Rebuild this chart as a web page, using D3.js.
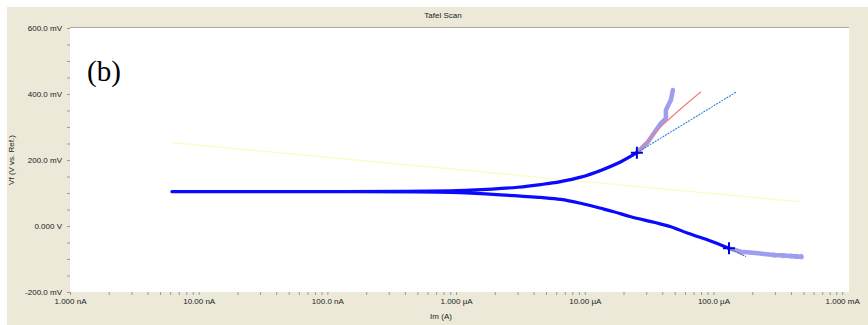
<!DOCTYPE html>
<html>
<head>
<meta charset="utf-8">
<script src="https://cdn.jsdelivr.net/npm/d3@7"></script>
<style>
  body { margin: 0; background: #fff; }
  text { font-family: "Liberation Sans", Arial, sans-serif; }
</style>
</head>
<body>
<div id="chart"></div>
<script>
// measured scan, [current (A), potential (mV)], cathodic end -> anodic end
const cathodicTail = [[4.80e-4, -93.0], [4.40e-4, -92.2], [4.01e-4, -90.9], [3.50e-4, -89.5], [2.96e-4, -87.9],
  [2.22e-4, -82.7], [1.64e-4, -77.9], [1.32e-4, -67.6]];
const fitRegion = [[1.32e-4, -67.6], [9.06e-5, -42.4], [6.34e-5, -22.1], [4.67e-5, -2.1], [3.44e-5, 11.2],
  [2.28e-5, 28.2], [1.68e-5, 43.3], [1.33e-5, 53.6], [9.31e-6, 68.8], [6.50e-6, 80.9], [4.55e-6, 86.5],
  [3.18e-6, 90.5], [2.22e-6, 94.5], [1.30e-6, 99.5], [9.06e-7, 101.8], [5.0e-7, 103.3], [1.5e-7, 104],
  [3.0e-8, 104], [6.2e-9, 104], [2.0e-8, 104.2], [1.0e-7, 104.3], [4.0e-7, 104.8], [9.0e-7, 106.5],
  [1.30e-6, 108.5], [3.01e-6, 117.5], [4.55e-6, 125.5], [6.50e-6, 134.5], [9.31e-6, 148.0],
  [1.33e-5, 168.5], [1.91e-5, 194.8], [2.54e-5, 222.1]];
const anodicTail = [[2.54e-5, 222.1], [3.09e-5, 254.5], [3.90e-5, 311.2], [4.27e-5, 326.4],
  [4.27e-5, 351.5], [4.67e-5, 381.8], [4.84e-5, 412.0]];

// Butler-Volmer fit (red), two branches
const fitCathodic = [[1.73e-4, -90.0], [1.32e-4, -68.5], [9.0e-5, -43.5], [6.3e-5, -23.5], [4.6e-5, -3.5],
  [3.4e-5, 10.5], [2.3e-5, 27.5], [1.3e-5, 53.5], [6.5e-6, 80.0], [3.2e-6, 89.5]];
const fitAnodic = [[4.55e-6, 127], [9.31e-6, 150], [1.33e-5, 171], [1.91e-5, 197.5], [2.54e-5, 224],
  [4.0e-5, 305], [8.0e-5, 407]];

// Tafel lines (blue) and marker points
const tafelAnodic = [[2.54e-5, 222.1], [1.52e-4, 407]];
const tafelCathodic = [[1.32e-4, -67.6], [1.79e-4, -93]];
const markers = [[2.54e-5, 222.1], [1.32e-4, -67.6]];

// yellow line
const yellowLine = [[6.18e-9, 252.4], [4.62e-4, 73.6]];

const xMajor = [1e-9, 1e-8, 1e-7, 1e-6, 1e-5, 1e-4, 1e-3];
const xLabels = ["1.000 nA", "10.00 nA", "100.0 nA", "1.000 µA", "10.00 µA", "100.0 µA", "1.000 mA"];
const yMajor = [600, 400, 200, 0, -200];
const yLabels = ["600.0 mV", "400.0 mV", "200.0 mV", "0.000 V", "-200.0 mV"];

const W = 868, H = 325;
const plotL = 70, plotR = 849, plotT = 28, plotB = 292;

const svg = d3.select("#chart").append("svg")
  .attr("width", W).attr("height", H);

// panel background
svg.append("rect").attr("x", 7).attr("y", 7).attr("width", W - 7).attr("height", H - 7)
  .attr("fill", "#ece9d8");
svg.append("rect").attr("x", plotL).attr("y", plotT).attr("width", plotR - plotL).attr("height", plotB - plotT)
  .attr("fill", "#fff");
svg.append("line").attr("x1", plotL).attr("x2", plotR).attr("y1", plotT - 0.5).attr("y2", plotT - 0.5)
  .attr("stroke", "#aca899");

const x = d3.scaleLog().domain([1e-9, 1.13e-3]).range([plotL, plotR]);
const y = d3.scaleLinear().domain([-200, 600]).range([plotB, plotT]);

// axes
const xAxis = svg.append("g").attr("transform", `translate(0,${plotB})`)
  .call(d3.axisBottom(x)
    .tickValues(x.ticks().filter(v => v <= 1e-3))
    .tickSize(3).tickPadding(3)
    .tickFormat(v => {
      const i = xMajor.findIndex(m => Math.abs(m - v) / m < 1e-6);
      return i >= 0 ? xLabels[i] : "";
    }));
xAxis.select(".domain").remove();
xAxis.selectAll(".tick line").attr("stroke", "#9a9a9a");
xAxis.selectAll("text").attr("font-size", 8).attr("fill", "#222")
  .attr("font-family", "Liberation Sans, Arial, sans-serif");

const yAxis = svg.append("g").attr("transform", `translate(${plotL},0)`)
  .call(d3.axisLeft(y)
    .tickValues(d3.range(-200, 601, 50))
    .tickSize(3).tickPadding(5)
    .tickFormat(v => {
      const i = yMajor.indexOf(v);
      return i >= 0 ? yLabels[i] : "";
    }));
yAxis.select(".domain").remove();
yAxis.selectAll(".tick line").attr("stroke", "#9a9a9a");
yAxis.selectAll("text").attr("font-size", 8).attr("fill", "#222")
  .attr("font-family", "Liberation Sans, Arial, sans-serif");

// titles
svg.append("text").attr("x", 443).attr("y", 18).attr("text-anchor", "middle")
  .attr("font-size", 8).attr("fill", "#222").text("Tafel Scan");
svg.append("text").attr("x", 441).attr("y", 319).attr("text-anchor", "middle")
  .attr("font-size", 8).attr("fill", "#222").text("Im (A)");
svg.append("text").attr("transform", "translate(14,160) rotate(-90)").attr("text-anchor", "middle")
  .attr("font-size", 8).attr("fill", "#222").text("Vf (V vs. Ref.)");

svg.append("text").attr("x", 87).attr("y", 81)
  .style("font-family", "'Liberation Serif', 'Times New Roman', serif")
  .attr("font-size", 29).attr("fill", "#000").text("(b)");

const plot = svg.append("g");
const line = d3.line().x(d => x(d[0])).y(d => y(d[1]));
const smooth = d3.line().curve(d3.curveCatmullRom.alpha(0.5)).x(d => x(d[0])).y(d => y(d[1]));

plot.append("path").datum(yellowLine).attr("d", line)
  .attr("fill", "none").attr("stroke", "#fbfbc4").attr("stroke-width", 1.3);

// lavender tails outside fit region
[cathodicTail, anodicTail].forEach(s => {
  plot.append("path").datum(s).attr("d", line)
    .attr("fill", "none").attr("stroke", "#9d9df2").attr("stroke-width", 4.5)
    .attr("stroke-linejoin", "round").attr("stroke-linecap", "round");
});
plot.selectAll("circle.tail").data(cathodicTail.slice(0, 5)).join("circle")
  .attr("class", "tail").attr("cx", d => x(d[0])).attr("cy", d => y(d[1])).attr("r", 2.6)
  .attr("fill", "#9d9df2");

// red fit
[fitCathodic, fitAnodic].forEach(s => {
  plot.append("path").datum(s).attr("d", smooth)
    .attr("fill", "none").attr("stroke", "#f47c7c").attr("stroke-width", 1.2);
});

// tafel lines
[tafelAnodic, tafelCathodic].forEach(s => {
  plot.append("path").datum(s).attr("d", line)
    .attr("fill", "none").attr("stroke", "#2a84dc").attr("stroke-width", 1.1)
    .attr("stroke-dasharray", "2,1");
});

// data in the fit region
plot.append("path").datum(fitRegion).attr("d", smooth)
  .attr("fill", "none").attr("stroke", "#0a0aff").attr("stroke-width", 3.2)
  .attr("stroke-linejoin", "round").attr("stroke-linecap", "round");

// fit markers
markers.forEach(m => {
  const cx = x(m[0]), cy = y(m[1]);
  plot.append("path").attr("d", `M${cx - 6},${cy}H${cx + 6}M${cx},${cy - 6}V${cy + 6}`)
    .attr("stroke", "#0000e0").attr("stroke-width", 2);
});
</script>
</body>
</html>
